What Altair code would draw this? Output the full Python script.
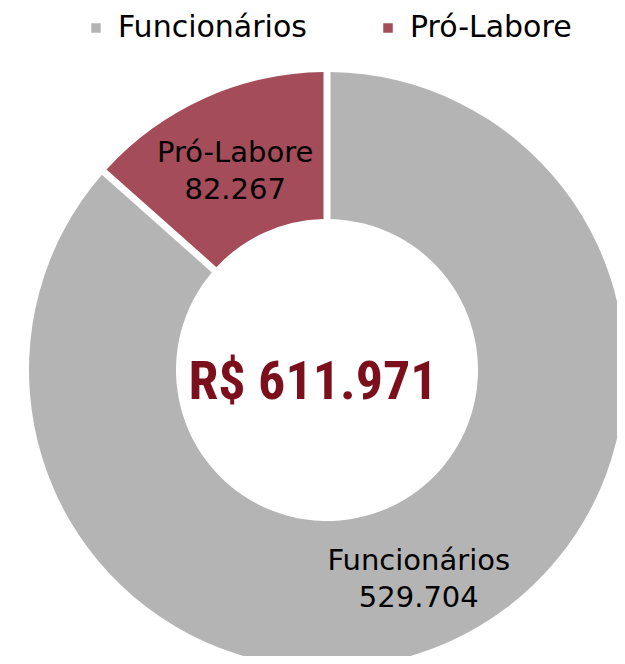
import altair as alt
import pandas as pd

categories = ["Funcionários", "Pró-Labore"]
values = [529704, 82267]
colors = ["#b4b4b4", "#a44c59"]
order = [1, 2]

def br(n):
    return f"{n:,}".replace(",", ".")

df = pd.DataFrame({
    "cat": categories,
    "val": values,
    "ord": order,
    "label": [f"{c}\n{br(v)}" for c, v in zip(categories, values)],
})
total_text = "R$ " + br(sum(values))

FONT = "DejaVu Sans"
CX, CY = 319, 362

base = alt.Chart(df).encode(
    theta=alt.Theta("val:Q", stack=True),
    order=alt.Order("ord:Q"),
    x=alt.value(CX),
    y=alt.value(CY),
)

arcs = base.mark_arc(innerRadius=151, outerRadius=298, padAngle=0.021).encode(
    color=alt.Color(
        "cat:N",
        scale=alt.Scale(domain=categories, range=colors),
        sort=categories,
        legend=alt.Legend(
            title=None,
            orient="none",
            legendX=73,
            legendY=5,
            padding=0,
            direction="horizontal",
            symbolType="square",
            symbolSize=90,
            symbolStrokeWidth=0,
            labelFontSize=30,
            labelFont=FONT,
            labelColor="#000000",
            labelOffset=7,
            labelLimit=400,
            columnPadding=66,
        ),
    )
)

labels = base.mark_text(
    radius=224, fontSize=29, font=FONT, lineBreak="\n", lineHeight=37,
    color="#000000", dy=-13
).encode(text="label:N")

center = alt.Chart(pd.DataFrame({"t": [total_text]})).mark_text(
    fontSize=54, font="Liberation Sans Narrow, Roboto Condensed, Roboto",
    fontWeight="bold", color="#7b0f1b", baseline="alphabetic"
).encode(text="t:N", x=alt.value(305), y=alt.value(391))

chart = (arcs + labels + center).properties(
    width=609, height=648, autosize=alt.AutoSizeParams(type="none"), padding=0
).configure_view(stroke=None)

chart.save("out.html", embed_options={"renderer": "svg", "actions": False})
